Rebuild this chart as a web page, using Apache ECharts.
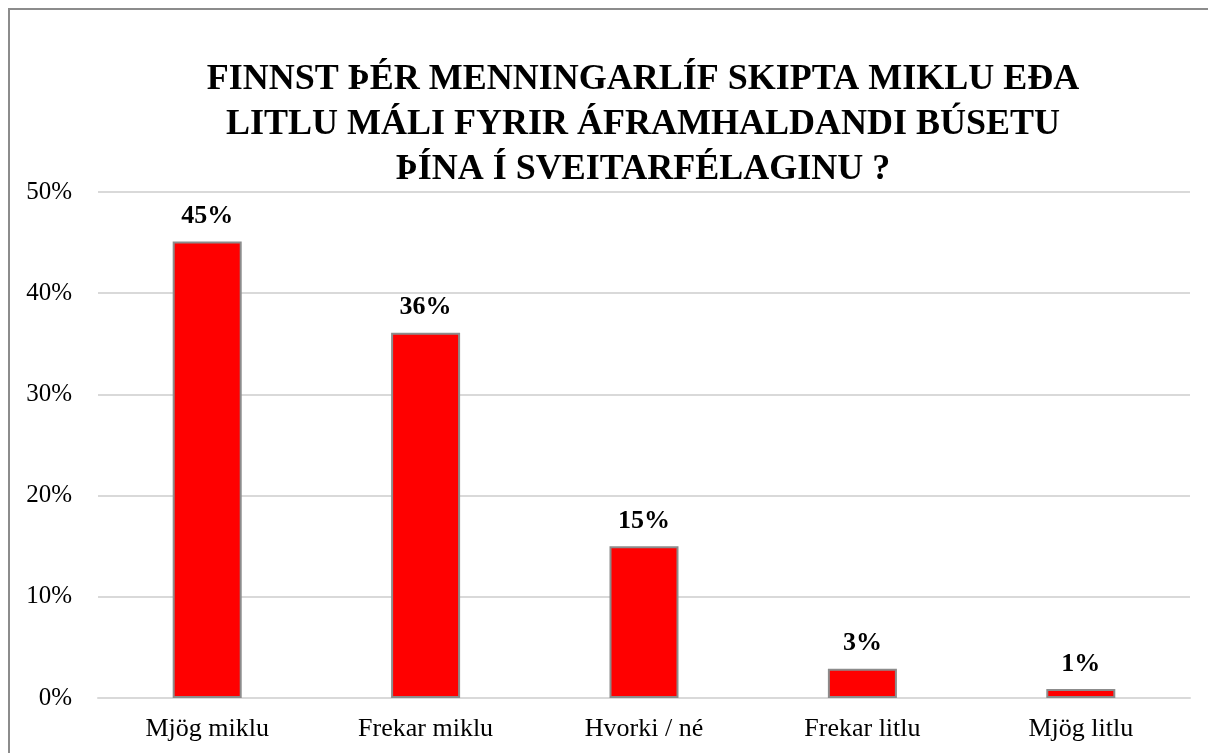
<!DOCTYPE html>
<html>
<head>
<meta charset="utf-8">
<title>Menningarlíf</title>
<script src="https://cdn.jsdelivr.net/npm/echarts@6/dist/echarts.min.js"></script>
<style>
  html, body { margin: 0; padding: 0; background: #fff; }
  #box { width: 1208px; height: 753px; }
</style>
</head>
<body>
<div id="box"></div>
<script>
// svarflokkar og hlutföll (%)
const categories = ['Mjög miklu', 'Frekar miklu', 'Hvorki / né', 'Frekar litlu', 'Mjög litlu']
const values = [45.1, 36.1, 15.0, 2.9, 0.9]
const yTicks = [0, 10, 20, 30, 40, 50]

const titleText = 'FINNST ÞÉR MENNINGARLÍF SKIPTA MIKLU EÐA\nLITLU MÁLI FYRIR ÁFRAMHALDANDI BÚSETU\nÞÍNA Í SVEITARFÉLAGINU ?'
const serif = '"Liberation Serif", "Times New Roman", serif'

const myEcharts = echarts.init(document.getElementById('box'))
const options = {
  backgroundColor: '#fff',
  textStyle: { fontFamily: serif },
  title: {
    text: titleText,
    left: 638,
    top: 52,
    textAlign: 'center',
    textStyle: {
      fontFamily: serif,
      fontWeight: 'bold',
      fontSize: 36,
      lineHeight: 45,
      color: '#000'
    }
  },
  graphic: [{
    type: 'rect',
    shape: { x: 9, y: 9, width: 1400, height: 900 },
    style: { fill: 'none', stroke: '#8c8c8c', lineWidth: 2 },
    silent: true
  }],
  grid: { left: 98, right: 18, top: 192, bottom: 55 },
  xAxis: {
    type: 'category',
    data: categories,
    axisLine: { lineStyle: { color: '#d9d9d9', width: 2 } },
    axisTick: { show: false },
    axisLabel: { color: '#000', fontSize: 26, fontFamily: serif, margin: 18 }
  },
  yAxis: {
    type: 'value',
    min: yTicks[0],
    max: yTicks[yTicks.length - 1],
    interval: 10,
    axisLine: { show: false },
    axisTick: { show: false },
    splitLine: { lineStyle: { color: '#d9d9d9', width: 2 } },
    axisLabel: { color: '#000', fontSize: 25, fontFamily: serif, margin: 26, formatter: '{value}%' }
  },
  series: [{
    type: 'bar',
    data: values,
    barWidth: '31.6%',
    itemStyle: { color: '#ff0000', borderColor: '#8c8c8c', borderWidth: 2 },
    label: {
      show: true,
      position: 'top',
      distance: 12,
      color: '#000',
      fontSize: 26,
      fontWeight: 'bold',
      fontFamily: serif,
      formatter: p => Math.round(p.value) + '%'
    }
  }]
}
myEcharts.setOption(options)
</script>
</body>
</html>
